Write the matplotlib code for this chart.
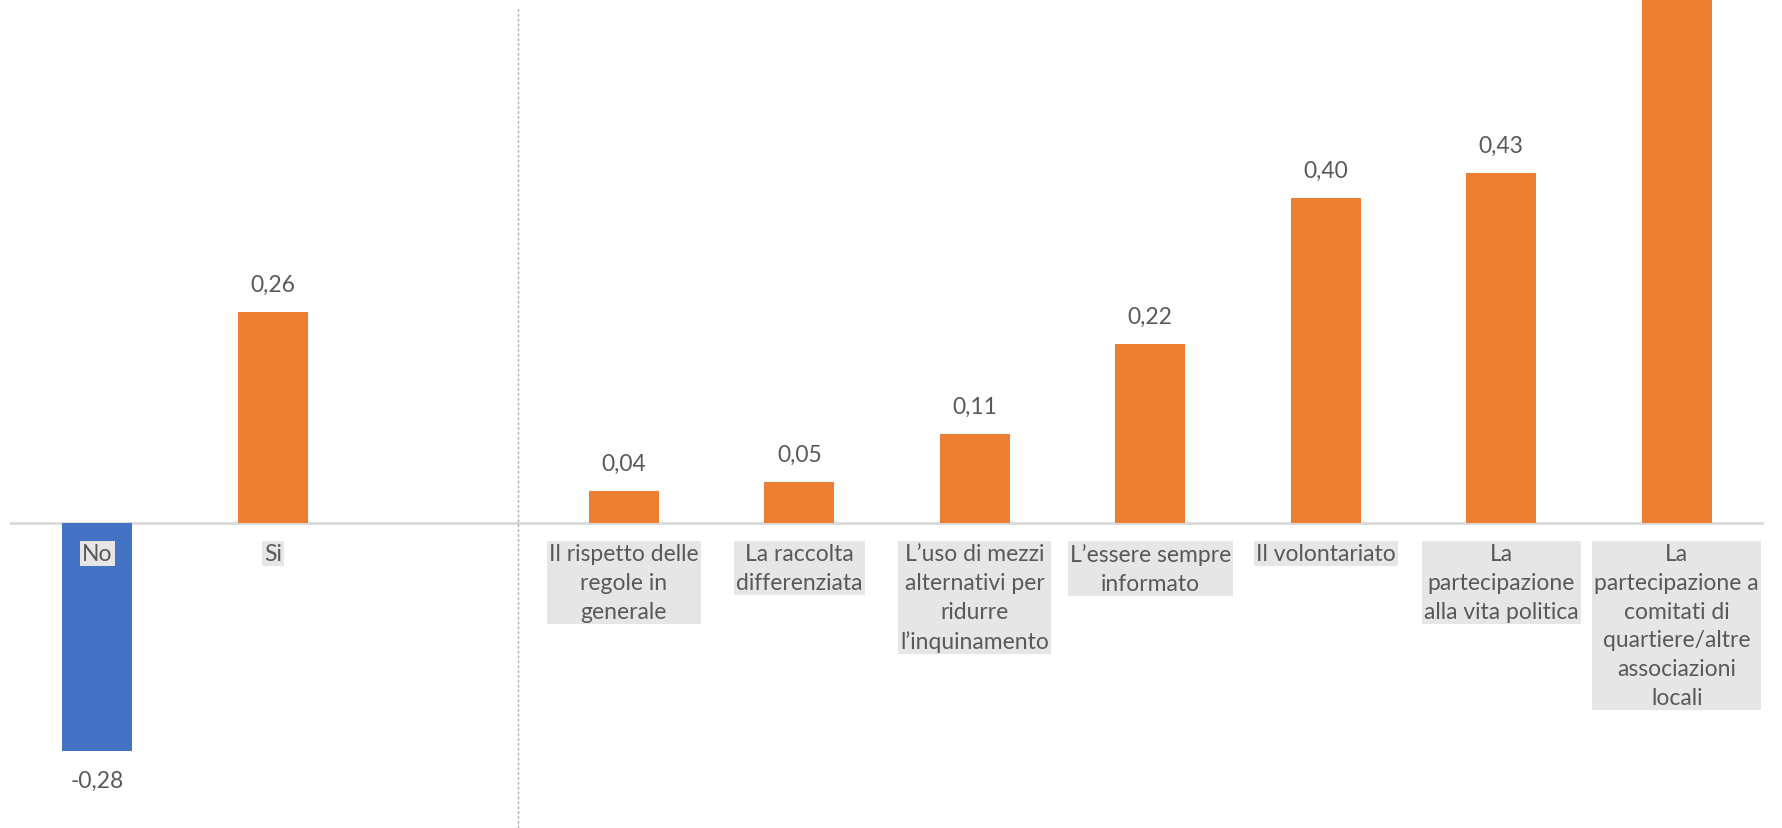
import matplotlib
matplotlib.use("Agg")
import matplotlib.pyplot as plt

categories = ["No", "Si",
              "Il rispetto delle\nregole in\ngenerale",
              "La raccolta\ndifferenziata",
              "L\u2019uso di mezzi\nalternativi per\nridurre\nl\u2019inquinamento",
              "L\u2019essere sempre\ninformato",
              "Il volontariato",
              "La\npartecipazione\nalla vita politica",
              "La\npartecipazione a\ncomitati di\nquartiere/altre\nassociazioni\nlocali"]
values = [-0.28, 0.26, 0.04, 0.05, 0.11, 0.22, 0.40, 0.43, 0.70]
positions = [0, 1, 3, 4, 5, 6, 7, 8, 9]
colors = ["#4472C4"] + ["#ED7D31"] * 8

plt.rcParams['font.family'] = ['Lato', 'DejaVu Sans']

fig = plt.figure(figsize=(17.83, 8.29), dpi=100)
ax = fig.add_axes([9.5 / 1783, 0, 1755 / 1783, 1])
ymin, ymax = -0.375, 0.6445
ax.set_xlim(-0.5, 9.5)
ax.set_ylim(ymin, ymax)
ax.axis('off')

ax.bar(positions, values, width=0.4, color=colors, zorder=2)
ax.axhline(0, color="#d9d9d9", lw=2, zorder=1)
ax.plot([2.4, 2.4], [ymin, 0.633], color="#b0b0b0", lw=1, ls=(0, (2, 1.5)), zorder=1)

txt = "#595959"
for x, v in zip(positions, values):
    lab = f"{v:.2f}".replace(".", ",")
    if v >= 0:
        if v + 0.06 < ymax:
            ax.text(x, v + 0.021, lab, ha='center', va='bottom', fontsize=16.5, color=txt)
    else:
        ax.text(x, v - 0.024, lab, ha='center', va='top', fontsize=16.5, color=txt)

for x, c in zip(positions, categories):
    ax.text(x, -0.025, c, ha='center', va='top', fontsize=16.5, color=txt,
            multialignment='center', linespacing=1.45, zorder=3,
            bbox=dict(facecolor="#e7e6e6", edgecolor='none', pad=1.5))

fig.savefig("out.png", dpi=100)
